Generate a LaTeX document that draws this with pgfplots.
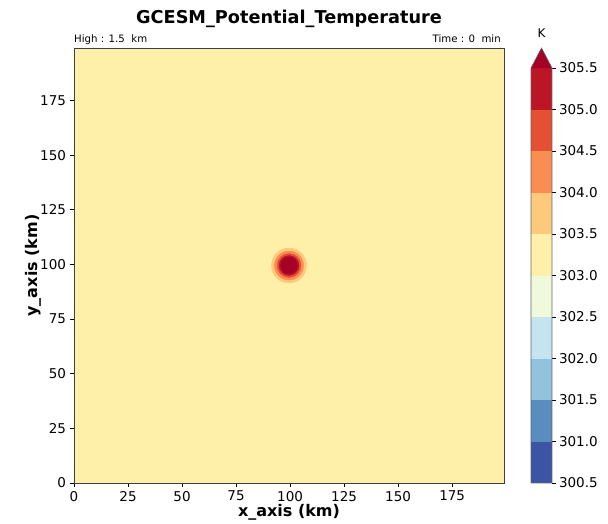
\documentclass[border=0pt]{standalone}
\usepackage{fontspec}
\setmainfont{DejaVu Sans}
\usepackage{pgfplots}
\pgfplotsset{compat=1.18}
\definecolor{c1}{RGB}{59,84,164}
\definecolor{c2}{RGB}{89,141,192}
\definecolor{c3}{RGB}{145,195,222}
\definecolor{c4}{RGB}{197,228,240}
\definecolor{c5}{RGB}{239,249,219}
\definecolor{c6}{RGB}{254,240,168}
\definecolor{c7}{RGB}{253,201,122}
\definecolor{c8}{RGB}{249,142,82}
\definecolor{c9}{RGB}{229,80,53}
\definecolor{c10}{RGB}{188,21,38}
\definecolor{cover}{RGB}{165,0,38}
\begin{document}
\begin{tikzpicture}
\useasboundingbox (0pt,0pt) rectangle (608pt,523pt);
% main field
\begin{axis}[
  at={(74pt,40pt)}, anchor=south west,
  scale only axis, width=430pt, height=435pt,
  xmin=0, xmax=199, ymin=0, ymax=199,
  xtick={0,25,...,175}, ytick={0,25,...,175},
  tick pos=left, tick align=outside,
  major tick length=3.5pt,
  tick style={black, line width=0.8pt},
  axis line style={black!75, line width=0.8pt},
  /pgf/number format/assume math mode=true,
  tick label style={font=\fontsize{13.5}{15}\selectfont},
  xticklabel style={yshift=-1pt},
  yticklabel style={xshift=-1pt},
  axis on top,
  clip mode=individual,
]
\addplot[c6, fill=c6, draw=none] coordinates {(0,0) (199,0) (199,199) (0,199)} -- cycle;
\addplot[c7, only marks, mark=*, mark size=17.5pt, mark options={draw=c7, fill=c7}] coordinates {(99.5,99.5)};
\addplot[c8, only marks, mark=*, mark size=14.5pt, mark options={draw=c8, fill=c8}] coordinates {(99.5,99.5)};
\addplot[c9, only marks, mark=*, mark size=12pt, mark options={draw=c9, fill=c9}] coordinates {(99.5,99.5)};
\addplot[c10, only marks, mark=*, mark size=10pt, mark options={draw=c10, fill=c10}] coordinates {(99.5,99.5)};
\addplot[cover, only marks, mark=*, mark size=8.3pt, mark options={draw=cover, fill=cover}] coordinates {(99.5,99.5)};
\node[anchor=base, yshift=24pt, font=\fontsize{17.7}{19}\selectfont\bfseries] at (rel axis cs:0.5,1) {GCESM\_Potential\_Temperature};
\node[anchor=base west, yshift=5.5pt, inner sep=0pt, font=\fontsize{10.2}{11}\selectfont] at (rel axis cs:0,1) {High : 1.5~ km};
\node[anchor=base east, yshift=5.5pt, xshift=-3pt, inner sep=0pt, font=\fontsize{10.2}{11}\selectfont] at (rel axis cs:1,1) {Time : 0~ min};
\node[anchor=center, yshift=-29.5pt, font=\fontsize{16}{18}\selectfont\bfseries] at (rel axis cs:0.5,0) {x\_axis (km)};
\node[anchor=center, xshift=-41pt, rotate=90, font=\fontsize{16}{18}\selectfont\bfseries] at (rel axis cs:0,0.5) {y\_axis (km)};
\end{axis}
% colorbar
\begin{axis}[
  at={(531pt,40pt)}, anchor=south west,
  scale only axis, width=21pt, height=415pt,
  xmin=0, xmax=1, ymin=300.5, ymax=305.5,
  xtick=\empty,
  ytick={300.5,301,...,305.5},
  ytick pos=right, yticklabel pos=right, tick align=outside,
  major tick length=3.5pt,
  tick style={black, line width=0.8pt},
  axis line style={draw=none},
  /pgf/number format/assume math mode=true,
  /pgf/number format/.cd, fixed, fixed zerofill, precision=1, /pgfplots/.cd,
  yticklabel style={font=\fontsize{13.5}{15}\selectfont, xshift=0pt},
  clip=false,
]
\addplot[fill=c1, draw=none] coordinates {(0,300.5) (1,300.5) (1,301.0) (0,301.0)} -- cycle;
\addplot[fill=c2, draw=none] coordinates {(0,301.0) (1,301.0) (1,301.5) (0,301.5)} -- cycle;
\addplot[fill=c3, draw=none] coordinates {(0,301.5) (1,301.5) (1,302.0) (0,302.0)} -- cycle;
\addplot[fill=c4, draw=none] coordinates {(0,302.0) (1,302.0) (1,302.5) (0,302.5)} -- cycle;
\addplot[fill=c5, draw=none] coordinates {(0,302.5) (1,302.5) (1,303.0) (0,303.0)} -- cycle;
\addplot[fill=c6, draw=none] coordinates {(0,303.0) (1,303.0) (1,303.5) (0,303.5)} -- cycle;
\addplot[fill=c7, draw=none] coordinates {(0,303.5) (1,303.5) (1,304.0) (0,304.0)} -- cycle;
\addplot[fill=c8, draw=none] coordinates {(0,304.0) (1,304.0) (1,304.5) (0,304.5)} -- cycle;
\addplot[fill=c9, draw=none] coordinates {(0,304.5) (1,304.5) (1,305.0) (0,305.0)} -- cycle;
\addplot[fill=c10, draw=none] coordinates {(0,305.0) (1,305.0) (1,305.5) (0,305.5)} -- cycle;
\addplot[fill=cover, draw=none] coordinates {(0,305.5) (1,305.5) (0.5,305.741)} -- cycle;
\addplot[draw=black!60, line width=0.6pt] coordinates {(0,300.5) (1,300.5) (1,305.5) (0.5,305.741) (0,305.5)} -- cycle;
\node[anchor=center, yshift=34.5pt, font=\fontsize{12}{13}\selectfont] at (axis cs:0.5,305.5) {K};
\end{axis}
\end{tikzpicture}
\end{document}
